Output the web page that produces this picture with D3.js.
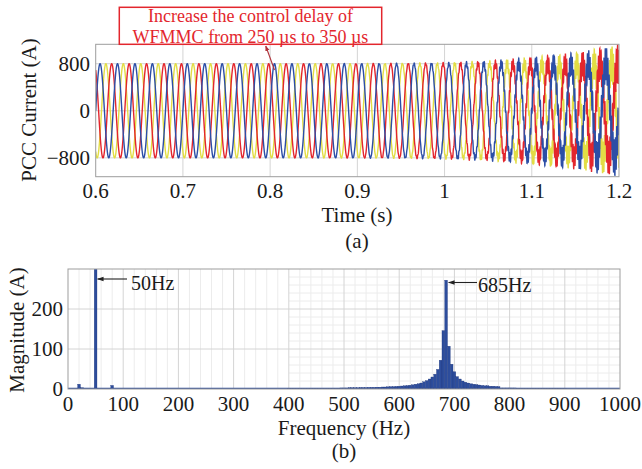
<!DOCTYPE html>
<html>
<head>
<meta charset="utf-8">
<script src="https://cdn.jsdelivr.net/npm/d3@7"></script>
<style>
  body { margin: 0; background: #fff; }
  text { font-family: "Liberation Serif", "Times New Roman", serif; fill: #1a1a1a; }
</style>
</head>
<body>
<svg id="fig" width="642" height="469"></svg>
<script>
// (a) PCC current, three phases
var phaseColors = ["#e2dd45", "#e3262d", "#2c4ea6"],
  phaseShift = [150, 30, -90],   // deg, at t = 0.6 s
  fundAmp = 800,
  fundFreq = 50,
  oscFreq = 685;
// amplitude of the 685 Hz oscillation
var envTime = [0.6, 0.8, 0.9, 0.95, 1.0, 1.05, 1.1, 1.15, 1.2],
  envAmp = [0, 0, 4, 10, 22, 50, 110, 190, 320];
var timeTicks = [0.6, 0.7, 0.8, 0.9, 1, 1.1, 1.2],
  currentTicks = [-800, 0, 800];

// (b) spectrum
var lowFreq = [20, 25, 50, 80],
  lowMag = [12, 3, 800, 9];
var binStart = 400, binStep = 5;
var binMag = [
  1, 1, 1, 1, 1, 1, 1, 1, 1, 1, 1,
  1.5, 1.5, 1.5, 2, 2, 2, 2, 2, 2.5, 2.5,
  2.5, 3, 3, 3, 3, 3.5, 3.5, 3.5, 4, 4,
  4, 4.5, 4.5, 5, 5, 5.5, 6, 6, 6.5, 7,
  7.5, 8, 8.5, 9.5, 10.5, 12, 13, 15, 18, 21,
  25, 30, 37, 49, 72, 146, 272, 107, 62, 43,
  31, 25, 20, 17, 15, 13, 12, 11, 10, 9,
  8, 8, 7, 7, 6.5, 6, 2.5, 2.5, 2.5, 2.5,
  2.5, 2.5, 2, 2, 2, 2, 2, 2, 1.5, 1.5,
  1.5, 1.5, 1.5, 1.5, 1, 1, 1, 1, 1, 1
];
var freqTicks = [0, 100, 200, 300, 400, 500, 600, 700, 800, 900, 1000],
  magTicks = [0, 100, 200];

var svg = d3.select("#fig");
var gridCol = "#d4d4d4", minorCol = "#ececec", frameCol = "#9d9d9d";

// ---------- top chart ----------
var x1 = d3.scaleLinear().domain([0.6, 1.2]).range([95.7, 619]);
var y1 = d3.scaleLinear().domain([-1120, 1130]).range([176.7, 44.3]);
var env = d3.scaleLinear().domain(envTime).range(envAmp).clamp(true);

svg.append("clipPath").attr("id", "clipA")
  .append("rect").attr("x", x1.range()[0]).attr("y", y1.range()[1])
  .attr("width", x1.range()[1] - x1.range()[0]).attr("height", y1.range()[0] - y1.range()[1]);

var gA = svg.append("g");
gA.selectAll(".vg").data(timeTicks.slice(1, -1)).enter().append("line")
  .attr("x1", d => x1(d)).attr("x2", d => x1(d))
  .attr("y1", y1.range()[1]).attr("y2", y1.range()[0])
  .attr("stroke", gridCol);
gA.selectAll(".hg").data(currentTicks).enter().append("line")
  .attr("x1", x1.range()[0]).attr("x2", x1.range()[1])
  .attr("y1", d => y1(d)).attr("y2", d => y1(d))
  .attr("stroke", gridCol);

var times = d3.range(0.6, 1.2 + 1e-9, 0.00004);
var line1 = d3.line().x(d => x1(d[0])).y(d => y1(d[1]));
var waves = gA.append("g").attr("clip-path", "url(#clipA)");
phaseShift.forEach(function(ph, k) {
  var r = ph * Math.PI / 180;
  var pts = times.map(function(t) {
    var tt = t - 0.6;
    return [t, fundAmp * Math.cos(2 * Math.PI * fundFreq * tt + r) +
      env(t) * Math.cos(2 * Math.PI * oscFreq * tt + r)];
  });
  waves.append("path").attr("d", line1(pts))
    .attr("fill", "none").attr("stroke", phaseColors[k]).attr("stroke-width", 1.4);
});

gA.append("rect").attr("x", x1.range()[0]).attr("y", y1.range()[1])
  .attr("width", x1.range()[1] - x1.range()[0]).attr("height", y1.range()[0] - y1.range()[1])
  .attr("fill", "none").attr("stroke", frameCol);

gA.selectAll(".xt").data(timeTicks).enter().append("text")
  .attr("x", d => x1(d)).attr("y", 198).attr("text-anchor", "middle")
  .attr("font-size", 21).text(d => d);
gA.selectAll(".yt").data(currentTicks).enter().append("text")
  .attr("x", 90).attr("y", d => y1(d) + 7).attr("text-anchor", "end")
  .attr("font-size", 21).text(d => d < 0 ? "\u2212" + (-d) : d);
gA.append("text").attr("x", 357).attr("y", 222).attr("text-anchor", "middle")
  .attr("font-size", 21).text("Time (s)");
gA.append("text").attr("x", 357).attr("y", 248).attr("text-anchor", "middle")
  .attr("font-size", 21).text("(a)");
gA.append("text").attr("transform", "translate(36,110) rotate(-90)")
  .attr("text-anchor", "middle").attr("font-size", 21).text("PCC Current (A)");

// annotation box + arrow
var red = "#e3262d";
svg.append("defs").html(
  '<marker id="hdR" viewBox="0 0 10 10" refX="9" refY="5" markerWidth="5" markerHeight="5" orient="auto">' +
  '<path d="M0,1 L10,5 L0,9 z" fill="#b0323a"/></marker>' +
  '<marker id="hdK" viewBox="0 0 10 10" refX="9" refY="5" markerWidth="6" markerHeight="6" orient="auto">' +
  '<path d="M0,1.5 L10,5 L0,8.5 z" fill="#222"/></marker>');
svg.append("line").attr("x1", x1(0.805)).attr("y1", 70).attr("x2", x1(0.795)).attr("y2", 46)
  .attr("stroke", "#b0323a").attr("stroke-width", 1.1).attr("marker-end", "url(#hdR)");
svg.append("rect").attr("x", 119.3).attr("y", 7.3).attr("width", 262.4).attr("height", 37)
  .attr("fill", "#fff").attr("stroke", red).attr("stroke-width", 1.5);
svg.append("text").attr("x", 250.5).attr("y", 22).attr("text-anchor", "middle")
  .attr("font-size", 18).style("fill", red).text("Increase the control delay of");
svg.append("text").attr("x", 250.5).attr("y", 42.6).attr("text-anchor", "middle")
  .attr("font-size", 18).style("fill", red).text("WFMMC from 250 \u00b5s to 350 \u00b5s");

// ---------- bottom chart ----------
var x2 = d3.scaleLinear().domain([0, 1000]).range([68, 620]);
var y2 = d3.scaleLinear().domain([0, 300]).range([389, 269]);
var gB = svg.append("g");

// minor grid
gB.selectAll(".mv").data(d3.range(0, 1000, 20).filter(f => f % 100)).enter().append("line")
  .attr("x1", d => x2(d)).attr("x2", d => x2(d))
  .attr("y1", y2.range()[1]).attr("y2", y2.range()[0]).attr("stroke", minorCol);
gB.selectAll(".mh").data(d3.range(20, 300, 20).filter(v => v % 100)).enter().append("line")
  .attr("x1", x2(400)).attr("x2", x2.range()[1])
  .attr("y1", d => y2(d)).attr("y2", d => y2(d)).attr("stroke", minorCol);
// major grid
gB.selectAll(".gv").data(freqTicks.slice(1, -1)).enter().append("line")
  .attr("x1", d => x2(d)).attr("x2", d => x2(d))
  .attr("y1", y2.range()[1]).attr("y2", y2.range()[0]).attr("stroke", gridCol);
gB.selectAll(".gh").data(magTicks.slice(1)).enter().append("line")
  .attr("x1", x2.range()[0]).attr("x2", x2.range()[1])
  .attr("y1", d => y2(d)).attr("y2", d => y2(d)).attr("stroke", gridCol);

svg.append("clipPath").attr("id", "clipB")
  .append("rect").attr("x", x2.range()[0]).attr("y", y2.range()[1])
  .attr("width", x2.range()[1] - x2.range()[0]).attr("height", y2.range()[0] - y2.range()[1]);

var bars = gB.append("g").attr("clip-path", "url(#clipB)");
var barCol = "#2d4d9c", bw = x2(binStep) - x2(0);
var spec = lowFreq.map((f, i) => [f, lowMag[i]])
  .concat(binMag.map((m, i) => [binStart + i * binStep, m]));
// noise floor
bars.append("line").attr("x1", x2.range()[0]).attr("x2", x2.range()[1])
  .attr("y1", y2(0) - 0.6).attr("y2", y2(0) - 0.6).attr("stroke", barCol).attr("stroke-width", 1.3);
bars.selectAll(".bar").data(spec).enter().append("rect")
  .attr("x", d => x2(d[0]) - bw / 2).attr("width", bw)
  .attr("y", d => y2(d[1])).attr("height", d => y2(0) - y2(d[1]))
  .attr("fill", barCol).attr("stroke", "#1d3478").attr("stroke-width", 0.3);

gB.append("rect").attr("x", x2.range()[0]).attr("y", y2.range()[1])
  .attr("width", x2.range()[1] - x2.range()[0]).attr("height", y2.range()[0] - y2.range()[1])
  .attr("fill", "none").attr("stroke", frameCol);

gB.selectAll(".xt").data(freqTicks).enter().append("text")
  .attr("x", d => x2(d)).attr("y", 411).attr("text-anchor", "middle")
  .attr("font-size", 21).text(d => d);
gB.selectAll(".yt").data(magTicks).enter().append("text")
  .attr("x", 63).attr("y", d => y2(d) + 7).attr("text-anchor", "end")
  .attr("font-size", 21).text(d => d);
gB.append("text").attr("x", 344).attr("y", 435).attr("text-anchor", "middle")
  .attr("font-size", 21).text("Frequency (Hz)");
gB.append("text").attr("x", 344).attr("y", 458).attr("text-anchor", "middle")
  .attr("font-size", 21).text("(b)");
gB.append("text").attr("transform", "translate(24,330) rotate(-90)")
  .attr("text-anchor", "middle").attr("font-size", 21).text("Magnitude (A)");

// peak labels
gB.append("line").attr("x1", 127).attr("y1", 279).attr("x2", x2(50) + 2).attr("y2", 279)
  .attr("stroke", "#222").attr("stroke-width", 1.1).attr("marker-end", "url(#hdK)");
gB.append("text").attr("x", 131).attr("y", 290).attr("font-size", 20).text("50Hz");
gB.append("line").attr("x1", 477).attr("y1", 282.5).attr("x2", x2(685) + 2.5).attr("y2", 282.5)
  .attr("stroke", "#222").attr("stroke-width", 1.1).attr("marker-end", "url(#hdK)");
gB.append("text").attr("x", 478).attr("y", 292).attr("font-size", 20).text("685Hz");
</script>
</body>
</html>
